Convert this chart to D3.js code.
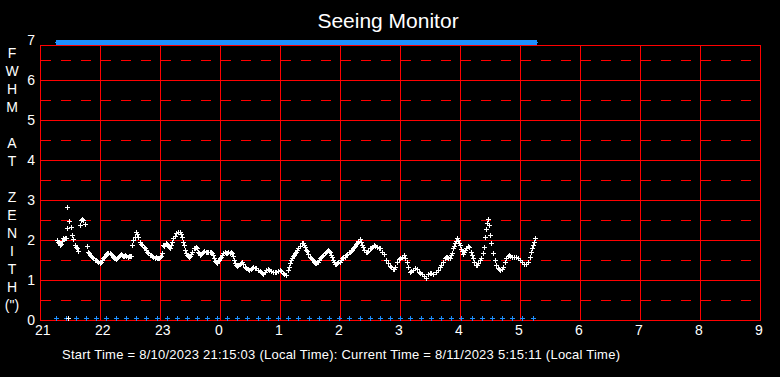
<!DOCTYPE html>
<html>
<head>
<meta charset="utf-8">
<script src="https://cdn.jsdelivr.net/npm/d3@7"></script>
<style>
  html, body { margin: 0; padding: 0; background: #000; }
  svg { display: block; }
  text { font-family: "Liberation Sans", Arial, sans-serif; fill: #ffffff; }
</style>
</head>
<body>
<svg id="chart" width="780" height="377"></svg>
<script>
// ---- data ----
const titleText = "Seeing Monitor";
const footerText = "Start Time = 8/10/2023 21:15:03 (Local Time): Current Time = 8/11/2023 5:15:11 (Local Time)";
const yTitleLetters = ["F","W","H","M","","A","T","","Z","E","N","I","T","H","(\")"];
const xTickLabels = ["21","22","23","0","1","2","3","4","5","6","7","8","9"];
const yTickLabels = ["0","1","2","3","4","5","6","7"];
// minutes after 21:00 local time
const sampleMinutes = [
  17,18,19,20,21,22,23,24,25,26,27,27,28,29,31,32,33,35,36,37,38,40,41,42,43,45,47,48,49,50,
  51,52,53,55,56,57,58,60,61,62,63,64,65,66,67,68,70,71,72,73,74,75,76,77,78,79,80,81,82,83,
  84,85,86,88,89,90,
  91,92,93,95,96,97,98,100,101,102,104,105,106,107,108,110,111,112,113,115,116,117,118,119,120,121,
  122,123,124,126,127,128,129,130,131,132,133,135,136,138,140,141,142,143,144,145,146,147,148,149,
  150,151,152,154,155,156,157,158,159,160,161,162,163,164,166,167,168,170,171,
  172,173,174,175,176,177,178,179,180,181,182,183,185,186,187,188,190,191,192,193,194,195,196,197,
  198,200,201,202,203,205,206,208,209,211,212,213,215,216,218,220,221,222,223,225,226,228,229,231,
  233,235,236,238,240,241,243,244,246,248,249,250,251,252,253,
  254,255,256,257,258,260,262,263,264,265,266,267,268,270,271,272,273,274,275,276,277,278,279,280,
  281,282,283,285,286,287,288,289,290,291,292,293,294,295,296,297,298,300,301,302,303,305,306,307,
  309,310,311,312,313,314,315,316,317,318,320,321,322,323,324,326,327,328,330,331,
  332,334,335,337,339,340,342,344,346,348,350,351,353,354,355,357,359,360,362,364,365,367,368,370,
  371,373,375,377,379,380,382,384,386,388,390,391,393,396,398,400,401,403,405,406,407,408,410,
  411,412,413,414,415,416,417,418,419,420,421,422,423,424,425,426,428,429,431,432,433,434,436,437,
  438,440,441,443,444,445,446,447,448,449,450,451,453,455,456,458,459,460,462,463,465,466,468,469,
  470,472,474,476,478,480,482,484,486,488,490,491,492,493,494,495
];
const fwhm = [
  2.00,1.95,1.92,1.88,1.90,1.97,2.04,2.03,2.06,2.05,2.29,2.82,0.05,2.47,2.33,2.12,2.02,1.87,1.82,1.79,1.73,2.37,2.50,2.53,2.50,2.39,1.85,1.70,1.67,1.62,
  1.60,1.57,1.54,1.50,1.49,1.47,1.46,1.43,1.46,1.50,1.54,1.57,1.60,1.64,1.67,1.68,1.67,1.65,1.62,1.58,1.56,1.54,1.52,1.55,1.58,1.60,1.62,1.64,1.62,1.61,
  1.60,1.62,1.60,1.58,1.60,1.60,
  1.60,1.87,2.00,2.08,2.19,2.15,2.08,1.96,1.90,1.87,1.83,1.80,1.75,1.70,1.67,1.63,1.62,1.60,1.58,1.56,1.57,1.55,1.54,1.55,1.58,1.60,
  1.67,1.87,1.85,1.92,1.90,1.87,1.82,1.79,1.87,1.95,2.04,2.10,2.17,2.20,2.21,2.15,2.08,1.95,1.87,1.75,1.68,1.62,1.60,1.58,
  1.60,1.65,1.70,1.79,1.80,1.83,1.80,1.71,1.68,1.62,1.65,1.68,1.71,1.72,1.71,1.70,1.71,1.69,1.70,
  1.68,1.62,1.55,1.48,1.45,1.43,1.47,1.50,1.54,1.58,1.62,1.67,1.70,1.67,1.68,1.70,1.68,1.71,1.67,1.60,1.50,1.42,1.37,1.36,
  1.38,1.40,1.42,1.45,1.40,1.33,1.30,1.27,1.25,1.28,1.30,1.33,1.30,1.29,1.25,1.22,1.20,1.17,1.14,1.20,1.25,1.28,1.25,1.22,
  1.19,1.20,1.21,1.23,1.25,1.22,1.17,1.14,1.12,1.25,1.33,1.42,1.50,1.54,1.60,
  1.62,1.67,1.71,1.75,1.79,1.85,1.92,1.93,1.88,1.83,1.76,1.72,1.64,1.58,1.55,1.52,1.50,1.46,1.43,1.42,1.44,1.46,1.50,1.54,
  1.58,1.60,1.62,1.67,1.69,1.72,1.75,1.73,1.69,1.62,1.58,1.50,1.44,1.39,1.40,1.42,1.44,1.46,1.50,1.54,1.57,1.58,1.62,1.65,
  1.70,1.69,1.72,1.76,1.79,1.83,1.86,1.90,1.93,1.97,2.02,1.95,1.87,1.83,1.76,1.69,1.70,1.72,1.80,1.79,
  1.83,1.87,1.86,1.83,1.80,1.79,1.71,1.64,1.50,1.42,1.35,1.33,1.27,1.28,1.33,1.46,1.52,1.55,1.58,1.62,1.55,1.46,1.33,1.21,
  1.23,1.25,1.31,1.27,1.21,1.17,1.14,1.10,1.06,1.14,1.18,1.17,1.15,1.19,1.25,1.33,1.37,1.46,1.54,1.57,1.58,1.56,1.54,
  1.62,1.67,1.79,1.85,1.92,1.98,2.04,2.00,1.92,1.87,1.78,1.72,1.65,1.70,1.75,1.80,1.85,1.82,1.70,1.62,1.55,1.46,1.37,1.38,
  1.42,1.50,1.54,1.67,1.83,2.08,2.27,2.42,2.52,2.37,2.12,1.92,1.67,1.50,1.37,1.29,1.27,1.25,1.27,1.33,1.46,1.56,1.60,1.62,
  1.60,1.58,1.58,1.57,1.54,1.50,1.44,1.40,1.39,1.46,1.58,1.71,1.80,1.87,1.96,2.06
];
const bottomMarkMinutes = [
  16,26,36,46,56,66,76,86,96,106,117,127,137,147,157,167,177,187,197,207,218,228,238,248,
  258,269,279,289,299,309,320,330,340,350,360,370,381,391,401,411,421,432,442,452,462,472,482,493
];
const topMarkValue = 6.95;
const bottomMarkValue = 0.05;

// ---- layout ----
const svg = d3.select("#chart");
svg.append("rect").attr("width", 780).attr("height", 377).attr("fill", "#000");

const x = d3.scaleLinear().domain([0, 720]).range([40, 760]);
const y = d3.scaleLinear().domain([0, 7]).range([320, 40]);
const frameTop = 6.875;
const red = "#ff0000";
const crisp = v => Math.round(v) + 0.5;

const grid = svg.append("g").attr("shape-rendering", "crispEdges");
// dashed half lines
d3.range(0.5, 7, 1).forEach(v => {
  grid.append("line")
    .attr("x1", x(1)).attr("x2", x(720))
    .attr("y1", crisp(y(v))).attr("y2", crisp(y(v)))
    .attr("stroke", red).attr("stroke-width", 1)
    .attr("stroke-dasharray", "10,10");
});
// solid horizontal lines
d3.range(1, 7).forEach(v => {
  grid.append("line")
    .attr("x1", x(0)).attr("x2", x(720))
    .attr("y1", crisp(y(v))).attr("y2", crisp(y(v)))
    .attr("stroke", red);
});
// vertical hour lines
d3.range(60, 720, 60).forEach(m => {
  grid.append("line")
    .attr("x1", crisp(x(m))).attr("x2", crisp(x(m)))
    .attr("y1", y(frameTop)).attr("y2", y(0))
    .attr("stroke", red);
});
// frame
grid.append("rect")
  .attr("x", crisp(x(0))).attr("y", crisp(y(frameTop)))
  .attr("width", x(720) - x(0)).attr("height", y(0) - y(frameTop))
  .attr("fill", "none").attr("stroke", red);

// plus markers
function plus(g, cx, cy, color, vw) {
  const px = Math.round(cx), py = Math.round(cy);
  const w = vw || 1;
  g.append("rect").attr("x", px - 2).attr("y", py).attr("width", 5).attr("height", 1).attr("fill", color);
  g.append("rect").attr("x", px - Math.floor(w / 2)).attr("y", py - 2).attr("width", w).attr("height", 5).attr("fill", color);
}
const marks = svg.append("g").attr("shape-rendering", "crispEdges");
const blue = "#1e90ff";
sampleMinutes.forEach(m => plus(marks, x(m), y(topMarkValue), blue, 3));
bottomMarkMinutes.forEach(m => plus(marks, x(m), y(bottomMarkValue), blue));
sampleMinutes.forEach((m, i) => plus(marks, x(m), y(fwhm[i]), "#ffffff"));

// axes labels
xTickLabels.forEach((t, i) => {
  svg.append("text").attr("x", x(i * 60) - 5).attr("y", 335)
    .attr("text-anchor", "start").attr("font-size", 14).text(t);
});
yTickLabels.forEach((t, i) => {
  svg.append("text").attr("x", 35).attr("y", y(i) + 5)
    .attr("text-anchor", "end").attr("font-size", 14).text(t);
});
yTitleLetters.forEach((t, i) => {
  svg.append("text").attr("x", 12).attr("y", 58 + i * 18)
    .attr("text-anchor", "middle").attr("font-size", 14).text(t);
});
svg.append("text").attr("x", 388).attr("y", 28)
  .attr("text-anchor", "middle").attr("font-size", 21).text(titleText);
svg.append("text").attr("x", 62).attr("y", 359)
  .attr("font-size", 13).attr("textLength", 558).attr("lengthAdjust", "spacing")
  .text(footerText);
</script>
</body>
</html>
